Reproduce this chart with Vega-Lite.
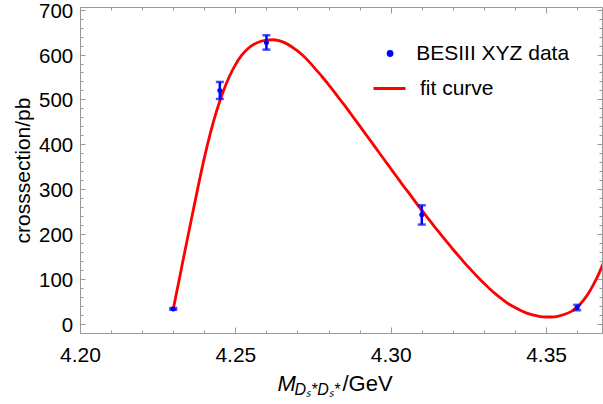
{
  "$schema": "https://vega.github.io/schema/vega-lite/v6.json",
  "width": 522,
  "height": 326,
  "autosize": "none",
  "padding": {"left": 80, "top": 7, "right": 1, "bottom": 71},
  "background": "white",
  "config": {
    "font": "Liberation Sans",
    "view": {"stroke": "#999999", "strokeWidth": 1},
    "axis": {"grid": false, "domain": false, "tickColor": "#999999", "tickWidth": 1, "labelColor": "#000000", "titleColor": "#000000", "labelFontSize": 21, "titleFontSize": 21, "titleFontWeight": "normal", "labelFlush": false, "labelOverlap": false}
  },
  "datasets": {
    "curve": [
      {"x": 4.230, "y": 32, "series": "fit curve"},
      {"x": 4.232, "y": 101, "series": "fit curve"},
      {"x": 4.234, "y": 170, "series": "fit curve"},
      {"x": 4.236, "y": 238, "series": "fit curve"},
      {"x": 4.238, "y": 305, "series": "fit curve"},
      {"x": 4.240, "y": 369, "series": "fit curve"},
      {"x": 4.242, "y": 426, "series": "fit curve"},
      {"x": 4.244, "y": 475, "series": "fit curve"},
      {"x": 4.246, "y": 516, "series": "fit curve"},
      {"x": 4.248, "y": 550, "series": "fit curve"},
      {"x": 4.250, "y": 577, "series": "fit curve"},
      {"x": 4.252, "y": 598, "series": "fit curve"},
      {"x": 4.254, "y": 613, "series": "fit curve"},
      {"x": 4.256, "y": 623, "series": "fit curve"},
      {"x": 4.258, "y": 629, "series": "fit curve"},
      {"x": 4.260, "y": 632, "series": "fit curve"},
      {"x": 4.262, "y": 633, "series": "fit curve"},
      {"x": 4.264, "y": 631, "series": "fit curve"},
      {"x": 4.266, "y": 626, "series": "fit curve"},
      {"x": 4.268, "y": 618, "series": "fit curve"},
      {"x": 4.270, "y": 608, "series": "fit curve"},
      {"x": 4.272, "y": 596, "series": "fit curve"},
      {"x": 4.274, "y": 582, "series": "fit curve"},
      {"x": 4.276, "y": 566, "series": "fit curve"},
      {"x": 4.278, "y": 550, "series": "fit curve"},
      {"x": 4.280, "y": 533, "series": "fit curve"},
      {"x": 4.282, "y": 515, "series": "fit curve"},
      {"x": 4.284, "y": 497, "series": "fit curve"},
      {"x": 4.286, "y": 479, "series": "fit curve"},
      {"x": 4.288, "y": 460, "series": "fit curve"},
      {"x": 4.290, "y": 441, "series": "fit curve"},
      {"x": 4.292, "y": 422, "series": "fit curve"},
      {"x": 4.294, "y": 403, "series": "fit curve"},
      {"x": 4.296, "y": 384, "series": "fit curve"},
      {"x": 4.298, "y": 365, "series": "fit curve"},
      {"x": 4.300, "y": 346, "series": "fit curve"},
      {"x": 4.302, "y": 327, "series": "fit curve"},
      {"x": 4.304, "y": 308, "series": "fit curve"},
      {"x": 4.306, "y": 290, "series": "fit curve"},
      {"x": 4.308, "y": 271, "series": "fit curve"},
      {"x": 4.310, "y": 253, "series": "fit curve"},
      {"x": 4.312, "y": 235, "series": "fit curve"},
      {"x": 4.314, "y": 217, "series": "fit curve"},
      {"x": 4.316, "y": 200, "series": "fit curve"},
      {"x": 4.318, "y": 183, "series": "fit curve"},
      {"x": 4.320, "y": 166, "series": "fit curve"},
      {"x": 4.322, "y": 150, "series": "fit curve"},
      {"x": 4.324, "y": 134, "series": "fit curve"},
      {"x": 4.326, "y": 119, "series": "fit curve"},
      {"x": 4.328, "y": 104, "series": "fit curve"},
      {"x": 4.330, "y": 90, "series": "fit curve"},
      {"x": 4.332, "y": 77, "series": "fit curve"},
      {"x": 4.334, "y": 65, "series": "fit curve"},
      {"x": 4.336, "y": 54, "series": "fit curve"},
      {"x": 4.338, "y": 44, "series": "fit curve"},
      {"x": 4.340, "y": 36, "series": "fit curve"},
      {"x": 4.342, "y": 29, "series": "fit curve"},
      {"x": 4.344, "y": 23, "series": "fit curve"},
      {"x": 4.346, "y": 19, "series": "fit curve"},
      {"x": 4.348, "y": 16, "series": "fit curve"},
      {"x": 4.350, "y": 15, "series": "fit curve"},
      {"x": 4.352, "y": 15, "series": "fit curve"},
      {"x": 4.354, "y": 17, "series": "fit curve"},
      {"x": 4.356, "y": 21, "series": "fit curve"},
      {"x": 4.358, "y": 27, "series": "fit curve"},
      {"x": 4.360, "y": 37, "series": "fit curve"},
      {"x": 4.362, "y": 52, "series": "fit curve"},
      {"x": 4.364, "y": 72, "series": "fit curve"},
      {"x": 4.366, "y": 97, "series": "fit curve"},
      {"x": 4.368, "y": 128, "series": "fit curve"},
      {"x": 4.370, "y": 165, "series": "fit curve"}
    ],
    "points": [
      {"x": 4.230, "y": 33, "lo": 31, "hi": 35, "series": "BESIII XYZ data"},
      {"x": 4.245, "y": 520, "lo": 501, "hi": 539, "series": "BESIII XYZ data"},
      {"x": 4.260, "y": 627, "lo": 611, "hi": 643, "series": "BESIII XYZ data"},
      {"x": 4.310, "y": 243, "lo": 221, "hi": 264, "series": "BESIII XYZ data"},
      {"x": 4.360, "y": 36, "lo": 30, "hi": 42, "series": "BESIII XYZ data"}
    ]
  },
  "resolve": {
    "scale": {"color": "independent"},
    "axis": {"x": "independent", "y": "independent"}
  },
  "layer": [
    {
      "data": {"name": "curve"},
      "mark": {"type": "line", "strokeWidth": 2.8, "clip": true, "interpolate": "monotone"},
      "encoding": {
        "x": {"field": "x", "type": "quantitative", "scale": {"domain": [4.2, 4.368], "nice": false, "zero": false},
          "axis": {"orient": "bottom", "values": [4.2, 4.25, 4.3, 4.35], "format": ".2f", "tickSize": -6, "labelPadding": 17,
            "title": "M", "titleFontSize": 22, "titleFontStyle": "italic", "titleX": 197, "titleY": 57.7, "titleAlign": "left", "titleBaseline": "alphabetic", "titleAnchor": null}},
        "y": {"field": "y", "type": "quantitative", "scale": {"domain": [-20.7, 706], "nice": false, "zero": false},
          "axis": {"orient": "left", "values": [0, 100, 200, 300, 400, 500, 600, 700], "tickSize": -5, "labelPadding": 12.3, "labelFontSize": 20.5, "labelOffset": 1.5,
            "title": "crosssection/pb", "titleX": -47, "titleY": 163, "titleAlign": "center", "titleBaseline": "bottom", "titleAngle": 270}},
        "color": {"field": "series", "type": "nominal", "scale": {"range": ["#ff0000"]},
          "legend": {"orient": "none", "legendX": 292, "legendY": 64, "title": null, "padding": 0, "symbolType": "stroke", "symbolSize": 1024, "symbolStrokeWidth": 3, "labelOffset": 13, "labelFontSize": 21, "labelColor": "#000000", "labelFont": "Liberation Sans"}}
      }
    },
    {
      "data": {"name": "points"},
      "mark": {"type": "rule", "color": "#0000ff", "strokeWidth": 2.5},
      "encoding": {
        "x": {"field": "x", "type": "quantitative", "scale": {"domain": [4.2, 4.368], "nice": false, "zero": false},
          "axis": {"orient": "bottom", "values": [4.2, 4.21, 4.22, 4.23, 4.24, 4.25, 4.26, 4.27, 4.28, 4.29, 4.3, 4.31, 4.32, 4.33, 4.34, 4.35, 4.36], "labels": false, "tickSize": -3,
            "title": "Dₛ*Dₛ*", "titleFontSize": 16, "titleFontStyle": "italic", "titleX": 214, "titleY": 61.3, "titleAlign": "left", "titleBaseline": "alphabetic", "titleAnchor": null}},
        "y": {"field": "lo", "type": "quantitative", "scale": {"domain": [-20.7, 706], "nice": false, "zero": false},
          "axis": {"orient": "left", "values": [0, 20, 40, 60, 80, 100, 120, 140, 160, 180, 200, 220, 240, 260, 280, 300, 320, 340, 360, 380, 400, 420, 440, 460, 480, 500, 520, 540, 560, 580, 600, 620, 640, 660, 680, 700], "labels": false, "tickSize": -3, "title": null}},
        "y2": {"field": "hi"}
      }
    },
    {
      "data": {"name": "points"},
      "mark": {"type": "tick", "orient": "horizontal", "color": "#0000ff", "size": 8, "thickness": 2.5},
      "encoding": {
        "x": {"field": "x", "type": "quantitative", "scale": {"domain": [4.2, 4.368], "nice": false, "zero": false},
          "axis": {"orient": "top", "values": [4.2, 4.25, 4.3, 4.35], "labels": false, "tickSize": -6,
            "title": "/GeV", "titleFontSize": 22, "titleX": 262, "titleY": 383.7, "titleAlign": "left", "titleBaseline": "alphabetic", "titleAnchor": null}},
        "y": {"field": "lo", "type": "quantitative", "scale": {"domain": [-20.7, 706], "nice": false, "zero": false},
          "axis": {"orient": "right", "values": [0, 100, 200, 300, 400, 500, 600, 700], "labels": false, "tickSize": -5, "title": null}}
      }
    },
    {
      "data": {"name": "points"},
      "mark": {"type": "tick", "orient": "horizontal", "color": "#0000ff", "size": 8, "thickness": 2.5},
      "encoding": {
        "x": {"field": "x", "type": "quantitative", "scale": {"domain": [4.2, 4.368], "nice": false, "zero": false},
          "axis": {"orient": "top", "values": [4.2, 4.21, 4.22, 4.23, 4.24, 4.25, 4.26, 4.27, 4.28, 4.29, 4.3, 4.31, 4.32, 4.33, 4.34, 4.35, 4.36], "labels": false, "tickSize": -3, "title": null}},
        "y": {"field": "hi", "type": "quantitative", "scale": {"domain": [-20.7, 706], "nice": false, "zero": false},
          "axis": {"orient": "right", "values": [0, 20, 40, 60, 80, 100, 120, 140, 160, 180, 200, 220, 240, 260, 280, 300, 320, 340, 360, 380, 400, 420, 440, 460, 480, 500, 520, 540, 560, 580, 600, 620, 640, 660, 680, 700], "labels": false, "tickSize": -3, "title": null}}
      }
    },
    {
      "data": {"name": "points"},
      "mark": {"type": "point", "filled": true, "shape": "circle", "size": 25, "opacity": 1},
      "encoding": {
        "x": {"field": "x", "type": "quantitative", "scale": {"domain": [4.2, 4.368], "nice": false, "zero": false}, "axis": null},
        "y": {"field": "y", "type": "quantitative", "scale": {"domain": [-20.7, 706], "nice": false, "zero": false}, "axis": null},
        "color": {"field": "series", "type": "nominal", "scale": {"range": ["#0000ff"]},
          "legend": {"orient": "none", "legendX": 299.6, "legendY": 36, "title": null, "padding": 0, "symbolType": "circle", "symbolSize": 46, "symbolOpacity": 1, "labelOffset": 15.6, "labelFontSize": 21, "labelColor": "#000000", "labelFont": "Liberation Sans"}}
      }
    }
  ]
}
